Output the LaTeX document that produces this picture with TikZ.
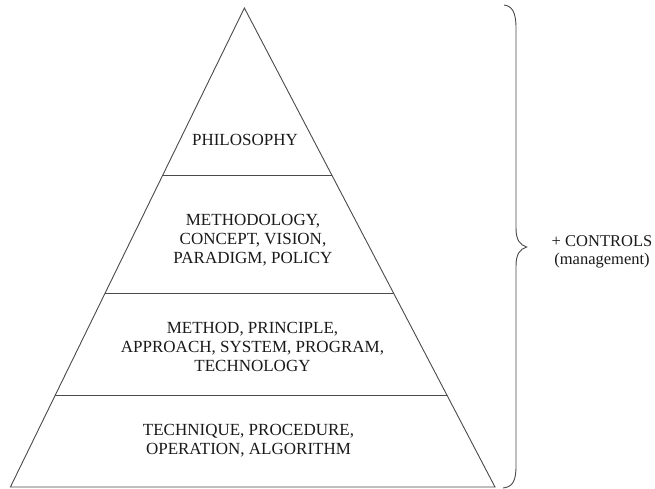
\documentclass[tikz,border=0pt]{standalone}
\usepackage{fontspec}
\setmainfont{Liberation Serif}
\usetikzlibrary{calc}
\definecolor{linegray}{HTML}{4A4A4A}
\definecolor{textblack}{HTML}{1A1A1A}
\tikzset{
  edge/.style={draw=linegray, line width=0.9pt},
  label/.style={align=center, text=textblack, inner sep=0pt, font=\fontsize{17}{19}\selectfont},
  sidelabel/.style={align=center, text=textblack, inner sep=0pt, font=\fontsize{16.5}{18}\selectfont}
}
\begin{document}
\begin{tikzpicture}[x=1pt, y=-1pt]
\useasboundingbox (0,0) rectangle (655,489);
\fill[white] (0,0) rectangle (655,489);
% triangle corners
\coordinate (apex) at (244.4,8);
\coordinate (bl) at (10.4,487);
\coordinate (br) at (495,487);
% division line endpoints
\coordinate (l1a) at ($(apex)!0.350!(bl)$);
\coordinate (l1b) at ($(apex)!0.350!(br)$);
\coordinate (l2a) at ($(apex)!0.5956!(bl)$);
\coordinate (l2b) at ($(apex)!0.5956!(br)$);
\coordinate (l3a) at ($(apex)!0.808!(bl)$);
\coordinate (l3b) at ($(apex)!0.808!(br)$);
\draw[edge, line join=miter] (apex) -- (br) -- (bl) -- cycle;
\draw[edge] (l1a) -- (l1b);
\draw[edge] (l2a) -- (l2b);
\draw[edge] (l3a) -- (l3b);
% texts
\node[label] (philo) at (245,140) {PHILOSOPHY};
\node[label] (method) at (253,240) {METHODOLOGY,\\CONCEPT, VISION,\\PARADIGM, POLICY};
\node[label] (system) at (252.5,347) {METHOD, PRINCIPLE,\\APPROACH, SYSTEM, PROGRAM,\\TECHNOLOGY};
\node[label] (tech) at (248.5,441) {TECHNIQUE, PROCEDURE,\\OPERATION, ALGORITHM};
% brace
\coordinate (btop) at (504,5);
\coordinate (btip) at (526.7,247);
\coordinate (bbot) at (503,488);
\draw[edge] (btop) .. controls (512,6) and (516,12) .. (516,28) -- (516,228)
  .. controls (516,240) and (520,245) .. (btip)
  .. controls (520,249) and (516,254) .. (516,266) -- (516,466)
  .. controls (516,482) and (512,487) .. (bbot);
\node[sidelabel] (controls) at (602,252) {+ CONTROLS\\(management)};
\end{tikzpicture}
\end{document}
